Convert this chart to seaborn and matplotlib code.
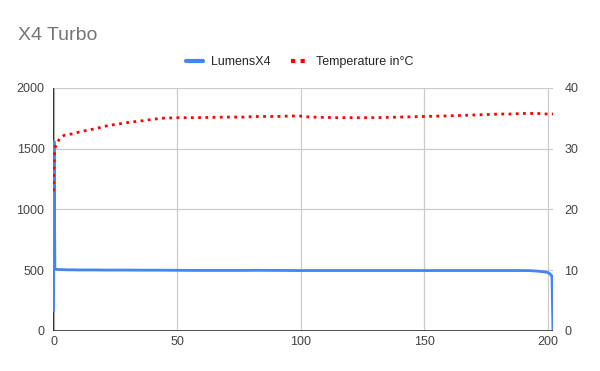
import numpy as np
import pandas as pd
import matplotlib.pyplot as plt
import seaborn as sns
from matplotlib.lines import Line2D

# Dados
minutes = [0, 0.2, 0.55, 1, 1.6, 2.5, 4.3, 6, 8, 10, 12, 16.4, 22, 30, 36, 43.4,
           50, 57, 64, 70, 77, 82, 90, 99, 104, 110, 115, 122, 130, 140, 150,
           160, 167, 174, 180, 185, 190, 193, 196, 198, 200, 201, 201.8, 202.2]
lumens = [170, 1560, 510, 508, 506, 505, 504, 503, 503, 502, 502, 502, 501, 501, 500, 500,
          499, 498, 498, 498, 498, 499, 498, 497, 497, 497, 497, 497, 497, 497, 497,
          497, 497, 497, 497, 497, 497, 496, 492, 488, 482, 470, 450, 0]
temperature = [23.0, 27.5, 30.0, 30.6, 31.0, 31.7, 32.2, 32.3, 32.5, 32.7, 32.9, 33.25, 33.8,
               34.3, 34.6, 35.0, 35.1, 35.1, 35.15, 35.2, 35.2, 35.3, 35.3, 35.4, 35.2,
               35.15, 35.1, 35.1, 35.1, 35.2, 35.3, 35.4, 35.5, 35.6, 35.7, 35.7, 35.8,
               35.8, 35.8, 35.75, 35.7, 35.7, 35.7, 35.7]

df = pd.DataFrame({"Minutes": minutes, "LumensX4": lumens, "Temperature": temperature})

sns.set_style("white")
plt.rcParams['font.family'] = ['Liberation Sans', 'DejaVu Sans']

blue = "#4285F4"
red = "#FF0000"
grid_c = "#CCCCCC"
txt_c = "#444444"

fig = plt.figure(figsize=(6, 3.71), dpi=100)
ax = fig.add_axes([0.088, 0.108, 0.834, 0.655])
ax2 = ax.twinx()

sns.lineplot(data=df, x="Minutes", y="LumensX4", color=blue, linewidth=2, ax=ax, zorder=3)
sns.lineplot(data=df, x="Minutes", y="Temperature", color=red, linewidth=2.0,
             linestyle=(0, (1, 1.6)), ax=ax2, zorder=3)

ax.set_xlim(-0.3, 202.3)
ax.set_ylim(0, 2000)
ax2.set_ylim(0, 40)
ax.set_xticks([0, 50, 100, 150, 200])
ax.set_yticks([0, 500, 1000, 1500, 2000])
ax2.set_yticks([0, 10, 20, 30, 40])

ax.grid(True, color=grid_c, linewidth=0.9)
ax.set_axisbelow(True)
ax.set_xlabel("")
ax.set_ylabel("")
ax2.set_ylabel("")

for a in (ax, ax2):
    for s in ["top", "right", "left", "bottom"]:
        a.spines[s].set_visible(False)
    a.tick_params(length=0, labelsize=9, colors=txt_c)
ax.tick_params(axis="y", pad=6)
ax2.tick_params(axis="y", pad=8)
ax.axhline(0, color="#333333", linewidth=1.2, zorder=4)
ax.axvline(-0.3, color="#333333", linewidth=1.0, zorder=2)

ax2.yaxis.set_tick_params(labelleft=False, labelright=True)
for lbl in ax2.get_yticklabels():
    lbl.set_horizontalalignment("left")

# Título
fig.text(0.03, 0.892, "X4 Turbo", fontsize=14, color="#757575", va="baseline")

handles = [Line2D([0], [0], color=blue, linewidth=3),
           Line2D([0], [0], color=red, linewidth=3, linestyle=(0, (1, 1.3)))]
fig.legend(handles, ["LumensX4", "Temperature in°C"], loc="center", ncol=2,
           bbox_to_anchor=(0.5, 0.833), frameon=False, fontsize=9,
           handlelength=1.3, handletextpad=0.7, columnspacing=1.6)

plt.savefig("out.png", dpi=100)
plt.close()
